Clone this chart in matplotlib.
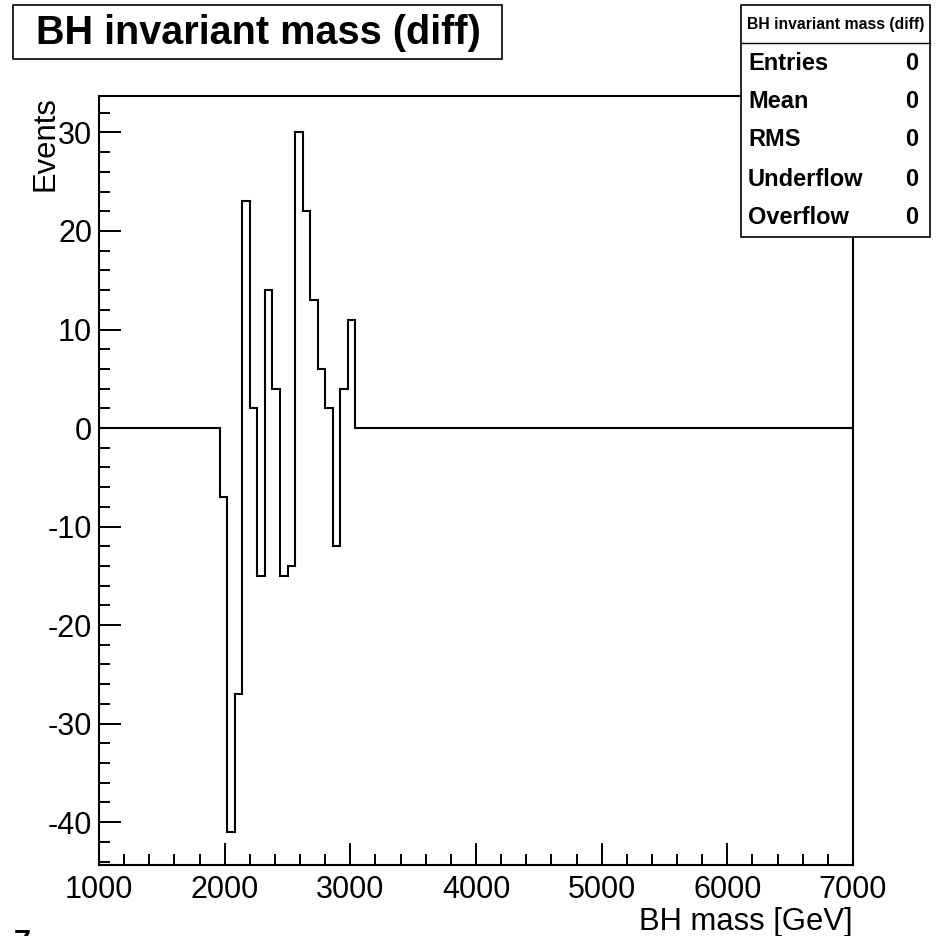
import numpy as np
import matplotlib
matplotlib.use("Agg")
import matplotlib.pyplot as plt
from matplotlib.patches import Rectangle
from matplotlib.lines import Line2D

# ---- data ----
x_min, x_max, n_bins = 1000, 7000, 100
counts = ([0] * 16 +
          [-7, -41, -27, 23, 2, -15, 14, 4, -15, -14, 30, 22, 13, 6, 2, -12, 4, 11] +
          [0] * 66)
x_ticks = [1000, 2000, 3000, 4000, 5000, 6000, 7000]
y_ticks = [-40, -30, -20, -10, 0, 10, 20, 30]
title = "BH invariant mass (diff)"
x_label = "BH mass [GeV]"
y_label = "Events"
stat_names = ["Entries", "Mean", "RMS", "Underflow", "Overflow"]
stat_values = ["0", "0", "0", "0", "0"]

edges = np.linspace(x_min, x_max, n_bins + 1)

W, H = 941, 936
fig = plt.figure(figsize=(W / 100, H / 100), dpi=100)
plt.rcParams['font.family'] = ['Liberation Sans', 'DejaVu Sans']

def fx(px):
    return px / W

def fy(py):
    return 1 - py / H

ax_l, ax_r, ax_t, ax_b = 99, 853, 96, 865
ax = fig.add_axes([fx(ax_l), fy(ax_b), fx(ax_r - ax_l), (ax_b - ax_t) / H])
ax.stairs(counts, edges, color='black', linewidth=1.5)
ax.set_xlim(x_min, x_max)
ax.set_ylim(-44.35, 33.7)

ax.set_xticks(x_ticks)
ax.set_xticklabels([str(t) for t in x_ticks])
ax.set_yticks(y_ticks)
ax.set_yticklabels([str(t) for t in y_ticks])
ax.set_xticks(np.arange(1000, 7001, 200), minor=True)
ax.set_yticks(np.arange(-44, 34, 2), minor=True)
ax.tick_params(which='both', direction='in', top=False, right=False, width=1.4, colors='black')
ax.tick_params(which='major', length=16, labelsize=22)
ax.tick_params(which='minor', length=8)
ax.tick_params(axis='y', which='major', pad=5)
ax.tick_params(axis='x', which='major', pad=7)
for s in ax.spines.values():
    s.set_linewidth(1.5)
    s.set_color('black')

# axis titles
fig.text(fx(ax_r), fy(930), x_label, ha='right', va='baseline', fontsize=22.3)
fig.text(fx(31), fy(ax_t), y_label, ha='left', va='top', rotation=90, fontsize=22.3)

# title box
fig.patches.append(Rectangle((fx(13), fy(59)), fx(502 - 13), (59 - 5) / H,
                             transform=fig.transFigure, facecolor='white',
                             edgecolor='black', linewidth=1.2, zorder=5))
fig.text(fx(258), fy(33), title, ha='center', va='center', fontsize=28.5,
         fontweight='bold', zorder=6)

# stats box
sb_l, sb_r, sb_t, sb_b, sb_h = 741, 930, 5, 237, 43
fig.patches.append(Rectangle((fx(sb_l), fy(sb_b)), fx(sb_r - sb_l), (sb_b - sb_t) / H,
                             transform=fig.transFigure, facecolor='white',
                             edgecolor='black', linewidth=1.2, zorder=5))
fig.lines.append(Line2D([fx(sb_l), fx(sb_r)], [fy(sb_h), fy(sb_h)],
                        transform=fig.transFigure, color='black', linewidth=1.0, zorder=6))
fig.text(fx((sb_l + sb_r) / 2), fy(25), title, ha='center', va='center',
         fontsize=11.3, fontweight='bold', zorder=7)
row_y = [64, 102, 140, 179, 217]
for name, val, yy in zip(stat_names, stat_values, row_y):
    fig.text(fx(748), fy(yy), name, ha='left', va='center', fontsize=17,
             fontweight='bold', zorder=7)
    fig.text(fx(918), fy(yy), val, ha='right', va='center', fontsize=17,
             fontweight='bold', zorder=7)

# stray pad label at bottom-left
fig.text(fx(14), fy(929), "7", ha='left', va='top', fontsize=22, fontweight='bold')

fig.savefig("out.png", dpi=100)
